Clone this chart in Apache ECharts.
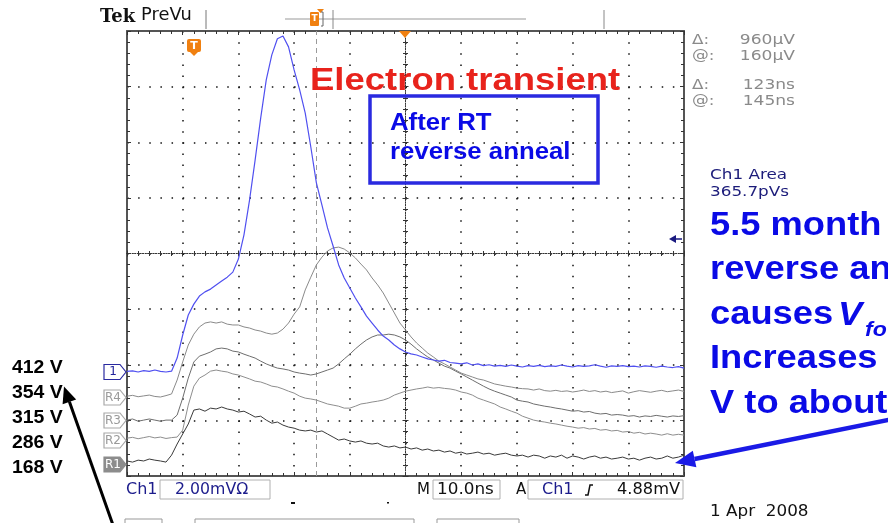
<!DOCTYPE html>
<html>
<head>
<meta charset="utf-8">
<script src="https://cdn.jsdelivr.net/npm/echarts@6/dist/echarts.min.js"></script>
<style>
html,body{margin:0;padding:0;background:#fff;}
#c{width:888px;height:523px;}
</style>
</head>
<body>
<div id="c"></div>
<script>
// ---- Data (time in ns, amplitude in mV; 2 mV/div, 10 ns/div) ----
const timeNs = [0,1,2,3,4,5,6,7,8,9,10,11,12,13,14,15,16,17,18,19,20,21,22,23,24,25,26,27,28,29,30,31,32,33,34,35,36,37,38,39,40,41,42,43,44,45,46,47,48,49,50,51,52,53,54,55,56,57,58,59,60,61,62,63,64,65,66,67,68,69,70,71,72,73,74,75,76,77,78,79,80,81,82,83,84,85,86,87,88,89,90,91,92,93,94,95,96,97,98,99,100];

// Ch1 (412 V, after reverse anneal)
const ch1 = [-4.24,-4.22,-4.26,-4.21,-4.24,-4.19,-4.24,-4.26,-4.23,
 -3.76,-2.93,-2.21,-1.82,-1.53,-1.38,-1.28,-1.13,-0.99,-0.85,-0.67,-0.20,
 0.67,1.92,3.36,4.87,6.24,7.14,7.72,7.82,7.43,6.60,5.88,5.05,3.83,2.54,1.74,0.92,0.27,-0.41,-0.88,-1.24,
 -1.60,-1.92,-2.25,-2.50,-2.75,-2.97,-3.11,-3.29,-3.43,-3.54,-3.61,-3.65,-3.72,-3.79,-3.83,-3.87,-3.84,-3.92,-3.94,-3.97,
 -3.93,-4.01,-3.97,-4.03,-4.00,-4.05,-4.02,-4.06,-4.01,-4.05,
 -4.08,-4.03,-4.06,-4.02,-4.07,-4.04,-4.06,-4.01,-4.05,-4.08,
 -4.03,-4.06,-4.04,-4.00,-4.05,-4.09,-4.04,-4.06,-4.03,-4.07,
 -4.05,-4.08,-4.04,-4.06,-4.09,-4.05,-4.08,-4.10,-4.07,-4.12];

// R4 (354 V)
const r4 = [-5.13,-5.10,-5.15,-5.12,-5.09,-5.14,-5.16,-5.11,-5.05,
 -4.55,-3.90,-3.29,-2.90,-2.64,-2.50,-2.46,-2.50,-2.46,-2.54,-2.57,-2.57,
 -2.64,-2.68,-2.75,-2.79,-2.86,-2.90,-2.86,-2.72,-2.50,-2.18,-1.92,-1.31,-0.85,-0.41,-0.13,0.09,0.20,0.23,0.16,0.02,
 -0.16,-0.38,-0.59,-0.88,-1.13,-1.42,-1.78,-2.14,-2.50,-2.75,-3.00,-3.22,-3.40,-3.58,-3.72,-3.87,-3.97,-4.08,-4.19,-4.30,
 -4.37,-4.44,-4.51,-4.55,-4.62,-4.69,-4.73,-4.77,-4.80,-4.84,
 -4.86,-4.87,-4.91,-4.87,-4.93,-4.95,-4.92,-4.96,-4.94,-4.98,
 -4.95,-4.91,-4.96,-4.93,-4.98,-4.95,-5.00,-4.97,-4.94,-5.02,
 -4.97,-4.93,-4.96,-4.99,-4.95,-4.92,-4.97,-4.94,-4.91,-4.96];

// R3 (315 V)
const r3 = [-5.99,-5.95,-6.03,-5.99,-5.95,-5.99,-6.03,-5.99,-5.99,
 -5.81,-5.20,-4.48,-3.90,-3.69,-3.62,-3.54,-3.43,-3.40,-3.43,-3.51,-3.54,
 -3.62,-3.69,-3.76,-3.87,-3.97,-4.05,-4.12,-4.15,-4.19,-4.26,-4.30,-4.33,-4.37,-4.33,-4.26,-4.19,-4.12,-3.97,-3.79,-3.62,
 -3.43,-3.26,-3.11,-3.00,-2.93,-2.93,-2.90,-2.93,-3.00,-3.11,-3.26,-3.43,-3.58,-3.72,-3.83,-3.94,-4.05,-4.12,-4.23,-4.33,
 -4.44,-4.55,-4.66,-4.77,-4.87,-4.95,-5.02,-5.09,-5.16,-5.27,
 -5.31,-5.34,-5.41,-5.45,-5.49,-5.52,-5.56,-5.59,-5.63,-5.67,
 -5.65,-5.70,-5.68,-5.74,-5.77,-5.75,-5.81,-5.79,-5.81,-5.85,
 -5.83,-5.88,-5.84,-5.86,-5.82,-5.85,-5.88,-5.84,-5.86,-5.83];

// R2 (286 V)
const r2 = [-6.64,-6.61,-6.66,-6.62,-6.58,-6.63,-6.60,-6.65,-6.62,
 -6.60,-6.35,-5.45,-4.77,-4.48,-4.37,-4.23,-4.19,-4.23,-4.26,-4.33,-4.37,
 -4.44,-4.51,-4.59,-4.62,-4.69,-4.77,-4.80,-4.87,-4.95,-5.02,-5.13,-5.20,-5.23,-5.27,-5.34,-5.41,-5.45,-5.49,-5.56,-5.56,
 -5.49,-5.41,-5.38,-5.34,-5.31,-5.27,-5.20,-5.09,-5.02,-4.95,-4.91,-4.87,-4.84,-4.80,-4.84,-4.82,-4.85,-4.87,-4.91,-4.98,
 -5.02,-5.09,-5.20,-5.27,-5.34,-5.41,-5.52,-5.59,-5.67,-5.74,
 -5.85,-5.92,-5.99,-6.03,-6.06,-6.10,-6.13,-6.17,-6.21,-6.24,
 -6.28,-6.26,-6.31,-6.29,-6.35,-6.33,-6.38,-6.36,-6.42,-6.40,
 -6.46,-6.43,-6.49,-6.46,-6.49,-6.53,-6.48,-6.53,-6.50,-6.53];

// R1 (168 V)
const r1 = [-7.46,-7.50,-7.43,-7.46,-7.39,-7.43,-7.46,-7.50,-7.25,
 -6.85,-6.49,-6.13,-5.63,-5.59,-5.67,-5.56,-5.59,-5.52,-5.59,-5.63,-5.70,
 -5.67,-5.77,-5.88,-5.85,-5.99,-6.10,-6.06,-6.17,-6.24,-6.28,-6.35,-6.38,-6.35,-6.42,-6.38,-6.49,-6.60,-6.71,-6.67,-6.74,
 -6.78,-6.74,-6.82,-6.85,-6.82,-6.92,-6.96,-6.92,-6.99,-6.96,-7.03,-6.99,-7.07,-7.03,-7.10,-7.07,-7.14,-7.10,-7.18,-7.14,
 -7.21,-7.18,-7.14,-7.21,-7.18,-7.25,-7.21,-7.18,-7.25,-7.28,
 -7.25,-7.32,-7.25,-7.28,-7.36,-7.28,-7.32,-7.25,-7.36,-7.28,
 -7.32,-7.39,-7.32,-7.28,-7.36,-7.32,-7.39,-7.36,-7.32,-7.39,
 -7.36,-7.43,-7.36,-7.32,-7.39,-7.36,-7.28,-7.36,-7.32,-7.25];

const voltLabels = ['412 V','354 V','315 V','286 V','168 V'];
const channelTags = ['1','R4','R3','R2','R1'];
const cursorTime = 34;

function pairs(vals){ return timeNs.map((t,i)=>[t, vals[i]]); }

const chart = echarts.init(document.getElementById('c'), null, {renderer:'canvas'});

const SCOPE_FONT = "'DejaVu Sans',sans-serif";
const SLIDE_FONT = "'Liberation Sans',Arial,sans-serif";

function borderX(pos, split){
  return {
    type:'value', gridIndex:0, min:0, max:100, interval:10, position:pos,
    axisLine:{show:true, onZero:false, lineStyle:{color:'#555', width:2}},
    axisTick:{show:true, inside:true, length:4, lineStyle:{color:'#333', width:1}},
    minorTick:{show:true, splitNumber:5, length:3, lineStyle:{color:'#333', width:1}},
    axisLabel:{show:false},
    splitLine:{show:split, lineStyle:{color:'#111', width:1.5, type:[1.5, 9.625]}},
    minorSplitLine:{show:false}
  };
}
function borderY(pos, split){
  return {
    type:'value', gridIndex:0, min:-8, max:8, interval:2, position:pos,
    axisLine:{show:true, onZero:false, lineStyle:{color:'#555', width:2}},
    axisTick:{show:true, inside:true, length:4, lineStyle:{color:'#333', width:1}},
    minorTick:{show:true, splitNumber:5, length:3, lineStyle:{color:'#333', width:1}},
    axisLabel:{show:false},
    splitLine:{show:split, lineStyle:{color:'#111', width:1.5, type:[1.5, 9.64]}},
    minorSplitLine:{show:false}
  };
}
function centerX(inside){
  return {
    type:'value', gridIndex:0, min:0, max:100, interval:10, position:'bottom',
    axisLine:{show:true, onZero:true, onZeroAxisIndex:0, lineStyle:{color:'#333', width:1, type:[1,1.6]}},
    axisTick:{show:true, inside:inside, length:3, lineStyle:{color:'#333', width:1}},
    minorTick:{show:true, splitNumber:5, length:2.5, lineStyle:{color:'#333', width:1}},
    axisLabel:{show:false}, splitLine:{show:false}
  };
}
function centerY(inside){
  return {
    type:'value', gridIndex:0, min:-8, max:8, interval:2, position:'left',
    axisLine:{show:true, onZero:true, onZeroAxisIndex:4, lineStyle:{color:'#333', width:1, type:[1,1.6]}},
    axisTick:{show:true, inside:inside, length:3, lineStyle:{color:'#333', width:1}},
    minorTick:{show:true, splitNumber:5, length:2.5, lineStyle:{color:'#333', width:1}},
    axisLabel:{show:false}, splitLine:{show:false}
  };
}

function lineSeries(name, vals, color, width, extra){
  return Object.assign({
    name, type:'line', xAxisIndex:0, yAxisIndex:0, data:pairs(vals),
    showSymbol:false, symbol:'none', smooth:false, silent:true,
    lineStyle:{color, width}, z:5
  }, extra||{});
}

function pentagon(x0, yc, w, h){
  const hh=h/2;
  return [[x0,yc-hh],[x0+w-6,yc-hh],[x0+w,yc],[x0+w-6,yc+hh],[x0,yc+hh]];
}

const tagY = [372, 397.5, 420.5, 440.5, 464.5];
const tagGraphics = [];
channelTags.forEach((tag,i)=>{
  const isCh = i===0, filled = i===4;
  tagGraphics.push({type:'polygon', shape:{points:pentagon(104, tagY[i], 22, 15)},
    style:{fill: filled ? '#8c8c8c' : '#fff', stroke: isCh ? '#2a2aa0' : (filled ? '#8c8c8c' : '#a8a8a8'), lineWidth:1.2}, z:20});
  tagGraphics.push({type:'text', x:113, y:tagY[i], style:{text:tag, fill: isCh ? '#22229a' : (filled ? '#fff' : '#9a9a9a'),
    font:"12px " + SCOPE_FONT, align:'center', verticalAlign:'middle'}, z:21});
});

const voltGraphics = voltLabels.map((t,i)=>({
  type:'text', x:12, y:368.5 + i*25, scaleX:1.08,
  style:{text:t, fill:'#000', font:"bold 18px " + SLIDE_FONT, align:'left', verticalAlign:'middle'}, z:30
}));

const blueText = '#0a0ae6';
const slideLines = ['5.5 month','reverse an','causes','Increases','V to about'];
const slideGraphics = slideLines.map((t,i)=>({
  type:'text', x:710, y:225.5 + i*44.5, scaleX:1.1,
  style:{text:t, fill:blueText, font:"bold 33px " + SLIDE_FONT, align:'left', verticalAlign:'middle'}, z:30
}));

function stxt(text, x, y, color, align, size, sx){
  return {type:'text', x:x, y:y, scaleX:sx||1, style:{text:text, fill:color, font:(size||14)+"px " + SCOPE_FONT, align:align||'left', verticalAlign:'middle'}};
}
function readout(label, val, y){
  return [ stxt(label, 692, y, '#8a8a8a', 'left', 14, 1.2), stxt(val, 795, y, '#8a8a8a', 'right', 14, 1.22) ];
}

const graphics = [].concat(
  // Top bar
  [
    {type:'text', x:100, y:17, style:{text:'Tek', fill:'#111', font:"bold 18px 'DejaVu Serif','Liberation Serif',serif", align:'left', verticalAlign:'middle'}},
    stxt('PreVu', 141, 16, '#111', 'left', 17, 1.05),
    {type:'line', shape:{x1:206, y1:10, x2:206, y2:29}, style:{stroke:'#777', lineWidth:1}},
    {type:'line', shape:{x1:285, y1:19, x2:526, y2:19}, style:{stroke:'#999', lineWidth:1}},
    {type:'line', shape:{x1:333, y1:10, x2:333, y2:29}, style:{stroke:'#888', lineWidth:1}},
    {type:'line', shape:{x1:604, y1:10, x2:604, y2:29}, style:{stroke:'#888', lineWidth:1}},
    {type:'rect', shape:{x:310, y:12, width:9, height:14, r:1}, style:{fill:'#f08010'}},
    {type:'polygon', shape:{points:[[317,9],[324,9],[320.5,13]]}, style:{fill:'#f08010'}},
    {type:'text', x:314.5, y:19, style:{text:'T', fill:'#fff', font:"bold 9px " + SCOPE_FONT, align:'center', verticalAlign:'middle'}},
    {type:'polyline', shape:{points:[[321,12],[323,12],[323,26],[321,26]]}, style:{stroke:'#666', lineWidth:1, fill:null}}
  ],
  // Orange T marker in plot, trigger markers
  [
    {type:'rect', shape:{x:187, y:39, width:14, height:13, r:2}, style:{fill:'#f08010'}, z:20},
    {type:'polygon', shape:{points:[[190,52],[198,52],[194,56]]}, style:{fill:'#f08010'}, z:20},
    {type:'text', x:194, y:46, style:{text:'T', fill:'#fff', font:"bold 11px " + SCOPE_FONT, align:'center', verticalAlign:'middle'}, z:21},
    {type:'polygon', shape:{points:[[399,31],[411,31],[405,38]]}, style:{fill:'#f08010'}, z:20},
    {type:'polygon', shape:{points:[[669,239],[676,235],[676,243]]}, style:{fill:'#1a1a80'}, z:20},
    {type:'line', shape:{x1:676, y1:239, x2:682, y2:239}, style:{stroke:'#1a1a80', lineWidth:1.5}, z:20}
  ],
  tagGraphics,
  // Right readouts
  readout('\u0394:', '960\u00b5V', 40),
  readout('@:', '160\u00b5V', 56),
  readout('\u0394:', '123ns', 85),
  readout('@:', '145ns', 101),
  [
    stxt('Ch1 Area', 710, 175, '#1c1c7a', 'left', 14, 1.2),
    stxt('365.7pVs', 710, 192, '#1c1c7a', 'left', 14, 1.2)
  ],
  // Bottom bar
  [
    stxt('Ch1', 126, 490, '#1c1c8c', 'left', 16, 1),
    {type:'rect', shape:{x:160, y:480, width:110, height:19}, style:{fill:'#fff', stroke:'#b0b0b0', lineWidth:1}},
    stxt('2.00mV\u03a9', 175, 490, '#1c1c8c', 'left', 15, 1.05),
    stxt('M', 417, 490, '#111', 'left', 15, 1),
    {type:'rect', shape:{x:433, y:480, width:67, height:19}, style:{fill:'#fff', stroke:'#b0b0b0', lineWidth:1}},
    stxt('10.0ns', 437, 490, '#111', 'left', 15, 1.12),
    stxt('A', 516, 490, '#111', 'left', 15, 1),
    {type:'rect', shape:{x:528, y:480, width:155, height:19}, style:{fill:'#fff', stroke:'#b0b0b0', lineWidth:1}},
    stxt('Ch1', 542, 490, '#1c1c8c', 'left', 16, 1),
    {type:'polyline', shape:{points:[[585,495],[588,495],[590,485],[593,485]]}, style:{stroke:'#111', lineWidth:1.5, fill:null}},
    stxt('4.88mV', 680, 490, '#111', 'right', 15, 1.08),
    {type:'rect', shape:{x:291, y:502, width:4, height:2}, style:{fill:'#111'}},
    {type:'rect', shape:{x:387, y:502, width:2, height:1.5}, style:{fill:'#111'}},
    stxt('1 Apr  2008', 710, 512, '#111', 'left', 15, 1.12),
    {type:'rect', shape:{x:125, y:519, width:37, height:10}, style:{fill:'#fff', stroke:'#999', lineWidth:1}},
    {type:'rect', shape:{x:195, y:519, width:219, height:10}, style:{fill:'#fff', stroke:'#999', lineWidth:1}},
    {type:'rect', shape:{x:437, y:519, width:82, height:10}, style:{fill:'#fff', stroke:'#999', lineWidth:1}}
  ],
  // Slide annotations
  [
    {type:'text', x:310, y:81.5, scaleX:1.14, style:{text:'Electron transient', fill:'#e8231c', font:"bold 32px " + SLIDE_FONT, align:'left', verticalAlign:'middle'}, z:30},
    {type:'rect', shape:{x:370, y:96, width:228, height:87}, style:{fill:null, stroke:'#2a2ae0', lineWidth:3.5}, z:30},
    {type:'text', x:390, y:123.5, scaleX:1.12, style:{text:'After RT', fill:blueText, font:"bold 23px " + SLIDE_FONT, align:'left', verticalAlign:'middle'}, z:30},
    {type:'text', x:390, y:153, scaleX:1.12, style:{text:'reverse anneal', fill:blueText, font:"bold 23px " + SLIDE_FONT, align:'left', verticalAlign:'middle'}, z:30},
    {type:'text', x:838, y:315.5, scaleX:1.1, style:{text:'V', fill:blueText, font:"italic bold 33px " + SLIDE_FONT, align:'left', verticalAlign:'middle'}, z:30},
    {type:'text', x:865, y:330, scaleX:1.1, style:{text:'fo', fill:blueText, font:"italic bold 21px " + SLIDE_FONT, align:'left', verticalAlign:'middle'}, z:30},
    {type:'line', shape:{x1:113, y1:525, x2:69.4, y2:401.8}, style:{stroke:'#000', lineWidth:3}, z:30},
    {type:'polygon', shape:{points:[[64,386.5],[76.2,399.4],[62.6,404.2]]}, style:{fill:'#000'}, z:30},
    {type:'line', shape:{x1:890, y1:419.6, x2:694.6, y2:459}, style:{stroke:'#1a1ae6', lineWidth:4.5}, z:30},
    {type:'polygon', shape:{points:[[675,463],[696.4,467.3],[692.8,450.7]]}, style:{fill:'#1a1ae6'}, z:30}
  ],
  voltGraphics,
  slideGraphics
);

const option = {
  animation:false,
  backgroundColor:'#fff',
  grid:{left:127, top:31, width:557, height:445, outerBoundsMode:'none', containLabel:false, show:false},
  xAxis:[
    borderX('bottom', true),
    borderX('top', false),
    centerX(true),
    centerX(false),
    {type:'value', gridIndex:0, min:-50, max:50, show:false, position:'bottom', axisLine:{onZero:false}}
  ],
  yAxis:[
    borderY('left', true),
    borderY('right', false),
    centerY(true),
    centerY(false)
  ],
  series:[
    lineSeries('R1', r1, '#3a3a3a', 1),
    lineSeries('R2', r2, '#8e8e8e', 1),
    lineSeries('R3', r3, '#6e6e6e', 1),
    lineSeries('R4', r4, '#8a8a8a', 1),
    lineSeries('Ch1', ch1, '#5050f0', 1.2, {
      z:6,
      markLine:{silent:true, symbol:['none','none'], label:{show:false},
        lineStyle:{color:'#9a9a9a', width:1, type:[5,4]},
        data:[{xAxis:cursorTime}]}
    })
  ],
  graphic:graphics
};
chart.setOption(option);
</script>
</body>
</html>
